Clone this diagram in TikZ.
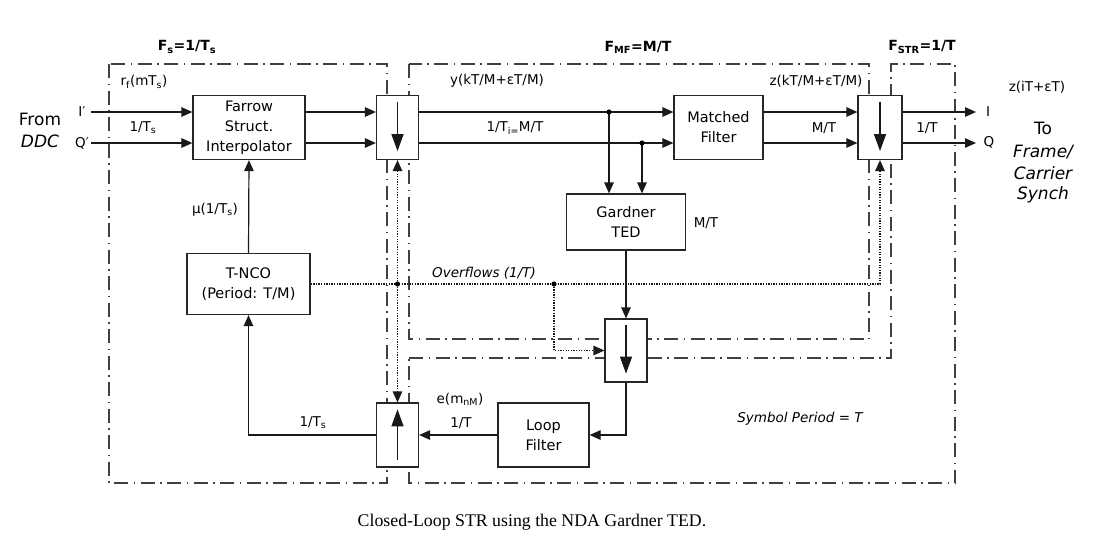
\documentclass[tikz,border=0pt]{standalone}
\usepackage{fontspec}
\setmainfont{DejaVu Sans}
\newfontfamily\capfont{Liberation Serif}
\usetikzlibrary{arrows.meta,calc}
\newcommand{\sbs}[1]{\textsubscript{#1}}
\begin{document}
\begin{tikzpicture}[x=1pt,y=-1pt,
  box/.style={draw=black!85, line width=1.2pt, fill=white, align=center, inner sep=0pt,
    font=\fontsize{14.5}{20}\selectfont},
  decbox/.style={draw=black!85, line width=1.2pt, fill=white, minimum width=42pt, minimum height=64pt, inner sep=0pt},
  region/.style={draw=black!75, line width=1.4pt, dash pattern=on 14pt off 5.5pt on 1.5pt off 5.5pt},
  arr/.style={line width=1.2pt, draw=black!90, -{Triangle[length=11pt,width=9.5pt]}},
  dotarr/.style={line width=1.3pt, draw=black!90, dash pattern=on 1.3pt off 1.3pt, -{Triangle[length=11pt,width=9.5pt]}},
  inarr/.style={line width=1.4pt, draw=black!90, -{Triangle[length=17pt,width=12pt]}},
  lbl/.style={inner sep=0pt, font=\fontsize{13.5}{16}\selectfont},
  big/.style={inner sep=0pt, font=\fontsize{17}{22}\selectfont},
  hdr/.style={inner sep=0pt, font=\bfseries\fontsize{14}{16}\selectfont},
  jdot/.style={fill=black}]
\useasboundingbox (0,0) rectangle (1103,541);
\fill[white] (0,0) rectangle (1103,541);

% clock regions
\draw[region] (109,64) rectangle (387,483);
\draw[region] (409,64) rectangle (869,339);
\draw[region] (409,358) -- (891,358) -- (891,64) -- (955,64) -- (955,483) -- (409,483) -- cycle;

% blocks
\node[box, minimum width=112pt, minimum height=64pt] (farrow) at (249,127.5) {Farrow\\Struct.\\Interpolator};
\node[decbox] (dec1) at (397.5,127.5) {};
\node[box, minimum width=89pt, minimum height=64pt] (mf) at (718.5,127.5) {Matched\\Filter};
\node[decbox, minimum width=44pt] (dec2) at (880,127.5) {};
\node[box, minimum width=119pt, minimum height=56pt] (ged) at (626,222) {Gardner\\TED};
\node[box, minimum width=123pt, minimum height=61pt] (tnco) at (248.5,284) {T-NCO\\(Period: T/M)};
\node[decbox, minimum height=63pt] (dec3) at (626,350.5) {};
\node[decbox] (dec4) at (397.5,435) {};
\node[box, minimum width=91pt, minimum height=64pt] (lf) at (543.5,435) {Loop\\Filter};

% inner arrows
\draw[inarr] ([yshift=-7pt]dec1.north) -- ([yshift=9pt]dec1.south);
\draw[inarr] ([yshift=-7pt]dec2.north) -- ([yshift=9pt]dec2.south);
\draw[inarr] ([yshift=-7pt]dec3.north) -- ([yshift=9pt]dec3.south);
\draw[inarr] ([yshift=8pt]dec4.south) -- ([yshift=-7pt]dec4.north);

% row coordinates
\coordinate (rowI) at (0,112);
\coordinate (rowQ) at (0,143);
\coordinate (inI) at (91,112);
\coordinate (inQ) at (91,143);
\coordinate (outI) at (976,112);
\coordinate (outQ) at (976,143);
\coordinate (j1) at (609,112);
\coordinate (j2) at (642,143);

% signal path
\draw[arr] (inI) -- (farrow.west |- rowI);
\draw[arr] (inQ) -- (farrow.west |- rowQ);
\draw[arr] (farrow.east |- rowI) -- (dec1.west |- rowI);
\draw[arr] (farrow.east |- rowQ) -- (dec1.west |- rowQ);
\draw[arr] (dec1.east |- rowI) -- (mf.west |- rowI);
\draw[arr] (dec1.east |- rowQ) -- (mf.west |- rowQ);
\draw[arr] (mf.east |- rowI) -- (dec2.west |- rowI);
\draw[arr] (mf.east |- rowQ) -- (dec2.west |- rowQ);
\draw[arr] (dec2.east |- rowI) -- (outI);
\draw[arr] (dec2.east |- rowQ) -- (outQ);
\draw[arr] (j1) -- (j1 |- ged.north);
\draw[arr] (j2) -- (j2 |- ged.north);
\fill[jdot] (j1) circle (2.6pt);
\fill[jdot] (j2) circle (2.6pt);

% loop
\draw[arr] (ged.south) -- (dec3.north);
\draw[arr] (dec3.south) |- (lf.east);
\draw[arr] (lf.west) -- (dec4.east);
\draw[arr] (dec4.west) -| (tnco.south);
\draw[arr] (tnco.north) -- (farrow.south);

% overflows
\coordinate (ov1) at (dec1.south |- tnco.east);
\coordinate (ov2) at (554,284);
\draw[dotarr] (tnco.east) -| (dec2.south);
\draw[dotarr] (ov1) -- (dec1.south);
\draw[dotarr] (ov1) -- (dec4.north);
\draw[dotarr] (ov2) |- (dec3.west);
\fill[jdot] (ov1) circle (2.6pt);
\fill[jdot] (ov2) circle (2.6pt);

% headers
\node[hdr] (hs) at (187,47) {F\sbs{s}=1/T\sbs{s}};
\node[hdr] (hmf) at (638,47) {F\sbs{MF}=M/T};
\node[hdr] (hstr) at (922,47) {F\sbs{STR}=1/T};

% labels
\node[big] (from) at (40,119) {From};
\node[big] (ddc) at (40,141) {\itshape DDC};
\node[lbl] (li) at (82,112) {I′};
\node[lbl] (lq) at (82,143) {Q′};
\node[lbl] (lrf) at (144,82) {r\sbs{f}(mT\sbs{s})};
\node[lbl] (lts) at (143,128) {1/T\sbs{s}};
\node[lbl] (lmu) at (215,210) {μ(1/T\sbs{s})};
\node[lbl] (ly) at (497,81) {y(kT/M+εT/M)};
\node[lbl] (lti) at (515,128) {1/T\sbs{i=}M/T};
\node[lbl] (lz) at (816,81) {z(kT/M+εT/M)};
\node[lbl] (lmt) at (824,128) {M/T};
\node[lbl] (l1t) at (927,128) {1/T};
\node[lbl] (lzi) at (1037,87) {z(iT+εT)};
\node[lbl] (lI) at (988,112) {I};
\node[lbl] (lQ) at (989,142) {Q};
\node[big] (to) at (1043,128) {To};
\node[big] (fr) at (1043,152) {\itshape Frame/};
\node[big] (ca) at (1043,173) {\itshape Carrier};
\node[big] (sy) at (1043,195) {\itshape Synch};
\node[lbl] (lged) at (706,223) {M/T};
\node[lbl] (lov) at (484,273) {\itshape Overflows (1/T)};
\node[lbl] (le) at (460,399) {e(m\sbs{nM})};
\node[lbl] (l1tb) at (461,423) {1/T};
\node[lbl] (ltsb) at (313,423) {1/T\sbs{s}};
\node[lbl] (lsp) at (800,419) {\itshape Symbol Period = T};

% caption
\node[inner sep=0pt, font=\capfont\fontsize{17.8}{20}\selectfont] (cap) at (532,522) {Closed-Loop STR using the NDA Gardner TED.};
\end{tikzpicture}
\end{document}
